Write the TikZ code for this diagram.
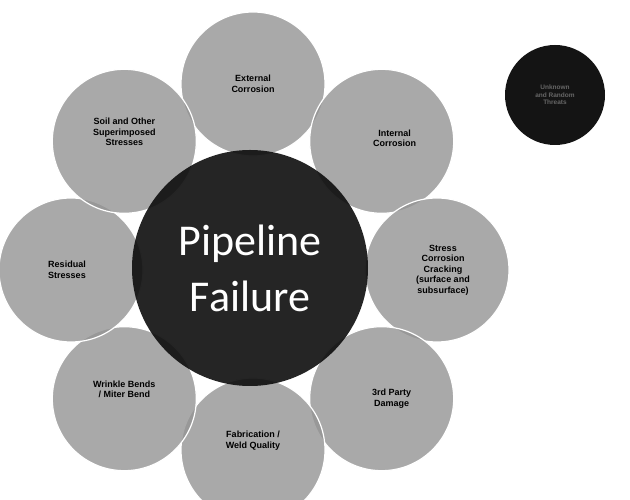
\documentclass[tikz,border=0pt]{standalone}
\usepackage{fontspec}
\setmainfont{Liberation Sans}
\newfontfamily\hubfont{Carlito}
\usetikzlibrary{calc}

\begin{document}
\begin{tikzpicture}[
    x=1pt, y=1pt,
    threat/.style={
      circle, draw=white, line width=1.2pt, fill=black!42, fill opacity=0.8,
      text opacity=1, minimum size=144pt, inner sep=0pt,
      font=\fontsize{9}{10.5}\selectfont\bfseries, align=center, text=black
    },
    hub/.style={
      circle, fill=black!95, fill opacity=0.9, text opacity=1,
      minimum size=236pt, inner sep=0pt,
      font=\hubfont\fontsize{44}{56}\selectfont, align=center, text=white
    },
    extra/.style={
      circle, fill=black!92, minimum size=100pt, inner sep=0pt,
      font=\fontsize{6.5}{7.5}\selectfont\bfseries, align=center, text=black!60
    },
  ]
  \useasboundingbox (0,0) rectangle (630,500);

  % ring of threats round the centre
  \coordinate (mid) at (253,230);

  \node[threat] (ext)   at ($(mid)+(90:186)$)  {External\\Corrosion};
  \node[threat] (int)   at ($(mid)+(45:182)$)  {\\[-14pt]\hspace*{26pt}Internal\\\hspace*{26pt}Corrosion};
  \node[threat] (scc)   at ($(mid)+(0:184)$)   {\hspace*{12pt}Stress\\\hspace*{12pt}Corrosion\\\hspace*{12pt}Cracking\\\hspace*{12pt}(surface and\\\hspace*{12pt}subsurface)};
  \node[threat] (party) at ($(mid)+(-45:182)$) {\hspace*{20pt}3rd Party\\\hspace*{20pt}Damage};
  \node[threat] (fab)   at ($(mid)+(-90:180)$) {Fabrication /\\Weld Quality\\[10pt]};
  \node[threat] (wrink) at ($(mid)+(-135:182)$){Wrinkle Bends\\/ Miter Bend\\[8pt]};
  \node[threat] (resid) at ($(mid)+(180:182)$) {Residual\hspace*{8pt}\\Stresses\hspace*{8pt}};
  \node[threat] (soil)  at ($(mid)+(135:182)$) {Soil and Other\\Superimposed\\Stresses\\[8pt]};

  % centre
  \node[hub] (fail) at (250,232) {Pipeline\\Failure};

  % separate threat, top right
  \node[extra] (unk) at (555,405) {Unknown\\and Random\\Threats};

\end{tikzpicture}
\end{document}
